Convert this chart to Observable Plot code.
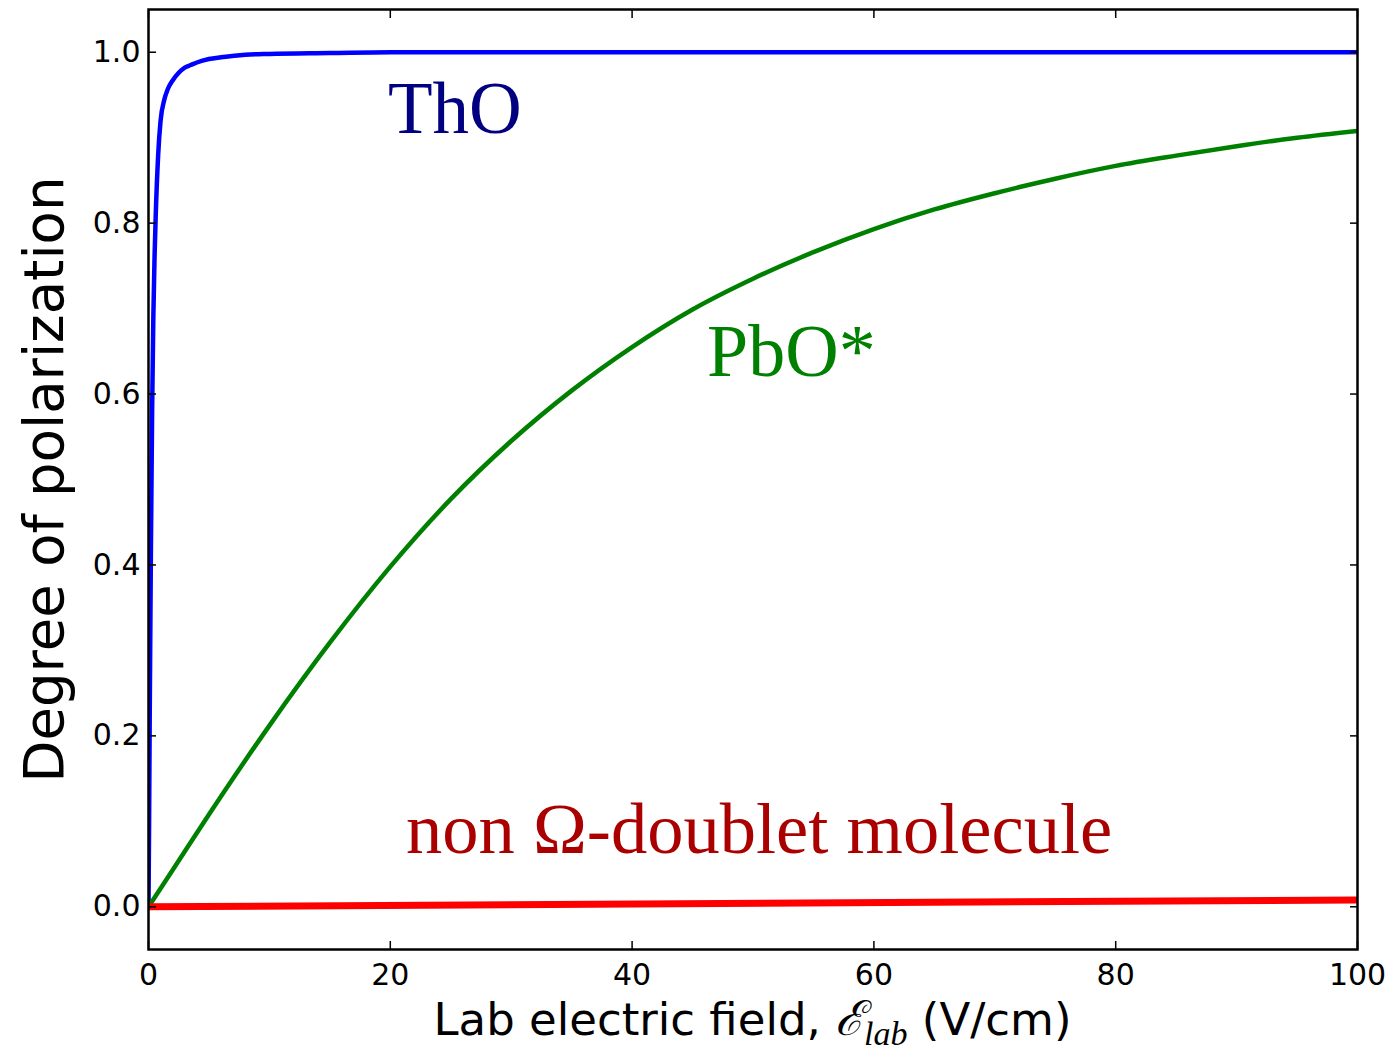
<!DOCTYPE html>
<html><head><meta charset="utf-8">
<script src="https://cdn.jsdelivr.net/npm/d3@7"></script>
<script src="https://cdn.jsdelivr.net/npm/@observablehq/plot@0.6"></script>
<style>body{margin:0;background:#fff}</style>
</head><body><div id="chart"></div>
<script>
// ThO polarization vs lab field (V/cm)
const thoField = [0, 0.05, 0.1, 0.2, 0.3, 0.4, 0.5, 0.6, 0.8, 1.0, 1.3, 1.6, 2.0, 2.5, 3, 3.5, 4, 5, 6, 8, 10, 15, 20, 30, 50, 70, 100];
const thoPol   = [0, 0.10, 0.22, 0.42, 0.58, 0.69, 0.76, 0.81, 0.88, 0.92, 0.944, 0.957, 0.967, 0.976, 0.982, 0.985, 0.988, 0.992, 0.994, 0.997, 0.998, 0.999, 1.0, 1.0, 1.0, 1.0, 1.0];
// PbO* polarization
const pboField = [0, 2, 5, 10, 15, 20, 25, 30, 35, 40, 45, 50, 55, 60, 65, 70, 75, 80, 85, 90, 95, 100];
const pboPol   = [0, 0.043, 0.108, 0.212, 0.309, 0.398, 0.477, 0.545, 0.604, 0.655, 0.699, 0.735, 0.766, 0.793, 0.816, 0.835, 0.852, 0.867, 0.879, 0.890, 0.900, 0.908];
// non Omega-doublet molecule
const nonField = [0, 100];
const nonPol   = [0, 0.008];

const xTicks = [0, 20, 40, 60, 80, 100];
const yTicks = [0.0, 0.2, 0.4, 0.6, 0.8, 1.0];

const series = [
  {field: thoField, pol: thoPol, color: "#0000ff", width: 4.5},
  {field: pboField, pol: pboPol, color: "#008000", width: 4.5},
  {field: nonField, pol: nonPol, color: "#ff0000", width: 7}
];
const rows = s => s.field.map((f, i) => ({x: f, y: s.pol[i]}));

const W = 1394, H = 1060;
const plot = Plot.plot({
  width: W, height: H,
  marginLeft: 148, marginRight: 37, marginTop: 9, marginBottom: 111,
  style: {fontFamily: "DejaVu Sans", background: "#fff", color: "#000"},
  x: {domain: [0, 100], label: null},
  y: {domain: [-0.05, 1.05], label: null},
  marks: [
    ...series.map(s => Plot.line(rows(s), {x: "x", y: "y", stroke: s.color, strokeWidth: s.width, clip: true, curve: "monotone-x"})),
    Plot.text([0], {text: () => "ThO", x: () => 19.8, y: () => 0.905, textAnchor: "start", lineAnchor: "bottom", fontSize: 73, fontFamily: "Liberation Serif", fill: "#000080"}),
    Plot.text([0], {text: () => "PbO*", x: () => 46.2, y: () => 0.621, textAnchor: "start", lineAnchor: "bottom", fontSize: 74, fontFamily: "Liberation Serif", fill: "#008000"}),
    Plot.text([0], {text: () => "non Ω-doublet molecule", x: () => 21.3, y: () => 0.063, textAnchor: "start", lineAnchor: "bottom", fontSize: 72.5, fontFamily: "Liberation Serif", fill: "#aa0000"}),
    Plot.text([0], {text: () => "Degree of polarization", frameAnchor: "left", rotate: -90, dx: -86, textAnchor: "middle", lineAnchor: "bottom", fontSize: 54.5, fontFamily: "DejaVu Sans", fill: "#000"}),
    Plot.axisY({anchor: "left", ticks: yTicks, tickFormat: d3.format(".1f"), tickSize: 0, tickPadding: 8, fontSize: 30, label: null}),
    Plot.axisX({anchor: "bottom", ticks: xTicks, tickFormat: d3.format("d"), tickSize: 0, tickPadding: 14, fontSize: 30, label: null}),
    Plot.axisY({anchor: "left", ticks: yTicks, tickSize: 8, insetLeft: 8, text: null, label: null, strokeWidth: 1.5}),
    Plot.axisY({anchor: "right", ticks: yTicks, tickSize: 8, insetRight: 8, text: null, label: null, strokeWidth: 1.5}),
    Plot.axisX({anchor: "bottom", ticks: xTicks, tickSize: 8, insetBottom: 8, text: null, label: null, strokeWidth: 1.5}),
    Plot.axisX({anchor: "top", ticks: xTicks, tickSize: 8, insetTop: 8, text: null, label: null, strokeWidth: 1.5}),
    Plot.frame({stroke: "#000", strokeWidth: 2.5})
  ]
});
document.getElementById("chart").appendChild(plot);

// x-axis label with math-style E_lab
const svg = d3.select(plot);
const t = svg.append("text")
  .attr("x", (148 + 1357) / 2).attr("y", 1035)
  .attr("text-anchor", "middle")
  .attr("font-family", "DejaVu Sans").attr("font-size", 45).attr("fill", "#000");
t.append("tspan").text("Lab electric field, ");
t.append("tspan").attr("font-family", "DejaVu Serif").attr("font-style", "italic").attr("font-size", 48).text("ℰ");
t.append("tspan").attr("font-family", "Liberation Serif").attr("font-style", "italic").attr("font-size", 34).attr("dy", 10).text("lab");
t.append("tspan").attr("dy", -10).text(" (V/cm)");
</script>
</body></html>
